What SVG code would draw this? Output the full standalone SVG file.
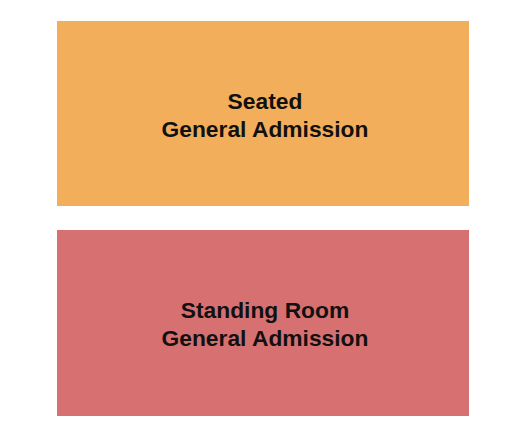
<svg xmlns="http://www.w3.org/2000/svg" width="525" height="444" viewBox="0 0 525 444">
<style>
.lbl{font-family:"Liberation Sans",Arial,sans-serif;font-weight:bold;font-size:22.8px;fill:#111;text-anchor:middle}
</style>
<rect width="525" height="444" fill="#fff"/>
<g id="seated">
<rect x="57" y="21" width="412" height="185" fill="#F2AE5A"/>
<text class="lbl" x="265" y="109">Seated</text>
<text class="lbl" x="265" y="137">General Admission</text>
</g>
<g id="standing">
<rect x="57" y="230" width="412" height="186" fill="#D77070"/>
<text class="lbl" x="265" y="318">Standing Room</text>
<text class="lbl" x="265" y="346">General Admission</text>
</g>
<g id="connectors"/>
</svg>
